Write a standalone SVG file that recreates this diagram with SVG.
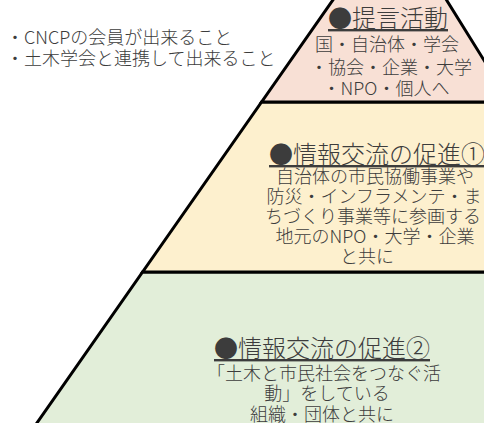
<svg xmlns="http://www.w3.org/2000/svg" width="484" height="423" viewBox="0 0 484 423">
<style>
.tier{stroke:#000;stroke-width:3;stroke-linejoin:miter}
text{font-family:"Noto Sans CJK JP","Noto Sans",sans-serif;fill:#3c3c3c;font-weight:300}
.t{font-size:24px;text-decoration:underline}
.b{font-size:18px}
.m{text-anchor:middle}
</style>
<rect width="484" height="423" fill="#fff"/>
<g id="tier-green">
<polygon class="tier" fill="#E2EED9" points="142.6,272 616,272 720,430 32,430"/>
<text class="t m" x="322" y="357">●情報交流の促進②</text>
<text class="b m" x="324" y="380">「土木と市民社会をつなぐ活</text>
<text class="b m" x="327" y="400">動」をしている</text>
<text class="b m" x="322" y="421">組織・団体と共に</text>
</g>
<g id="tier-yellow">
<polygon class="tier" fill="#FDF0CE" points="261.6,102 510,102 616,272 142.6,272"/>
<text class="t m" x="377" y="163">●情報交流の促進①</text>
<text class="b m" x="375" y="183">自治体の市民協働事業や</text>
<text class="b m" x="374" y="203">防災・インフラメンテ・ま</text>
<text class="b m" x="373" y="223">ちづくり事業等に参画する</text>
<text class="b m" x="375" y="243">地元のNPO・大学・企業</text>
<text class="b m" x="367" y="263">と共に</text>
</g>
<g id="tier-pink">
<polygon class="tier" fill="#F8E0D5" points="393,-86 510,102 261.6,102"/>
<text class="t m" x="388" y="27">●提言活動</text>
<text class="b m" x="387" y="51">国・自治体・学会</text>
<text class="b m" x="391" y="74">・協会・企業・大学</text>
<text class="b m" x="386" y="95">・NPO・個人へ</text>
</g>
<g id="notes">
<text class="b" x="6" y="44">・CNCPの会員が出来ること</text>
<text class="b" x="6" y="65">・土木学会と連携して出来ること</text>
</g>
<g id="connectors"></g>
</svg>
